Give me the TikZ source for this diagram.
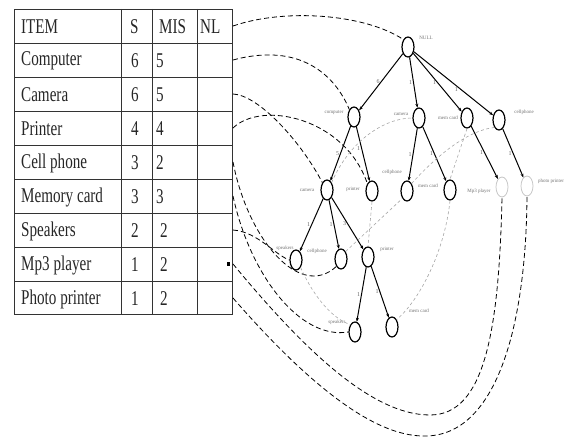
\documentclass[tikz,border=0pt]{standalone}
\usepackage{fontspec}
\setmainfont{Liberation Serif}
\newfontfamily\tabfont[FakeStretch=0.72]{Liberation Serif}
\usetikzlibrary{shapes.geometric,arrows.meta}
\begin{document}
\begin{tikzpicture}[x=1pt,y=-1pt,
 tn/.style={draw, ellipse, line width=1.2pt, minimum width=12pt, minimum height=20pt, inner sep=0pt},
 fn/.style={tn, draw=black!22, line width=0.8pt},
 lab/.style={font=\fontsize{5}{5}\selectfont, text=black!55, inner sep=0.5pt},
 elab/.style={font=\fontsize{6}{6}\selectfont, text=black!60, inner sep=1pt},
 tedge/.style={line width=1pt, -{Stealth[length=4pt,width=3pt]}},
 link/.style={dash pattern=on 5pt off 3pt, line width=0.8pt},
 glink/.style={dash pattern=on 3pt off 2.5pt, line width=0.6pt, draw=black!35},
 cell/.style={font=\tabfont\fontsize{21}{21}\selectfont, anchor=west, inner sep=0pt, text=black!85}
]
\useasboundingbox (0,0) rectangle (571,438);
% table
\draw[line width=0.9pt, draw=black!80] (14,9) rectangle (232,314);
\foreach \x in {121,152,197} \draw[line width=0.9pt, draw=black!80] (\x,9) -- (\x,314);
\foreach \y in {43,77,111,145,179,213,247,281} \draw[line width=0.9pt, draw=black!80] (14,\y) -- (232,\y);
\node[cell] (h1) at (21,27) {ITEM};
\node[cell] (h2) at (130,27) {S};
\node[cell] (h3) at (159,27) {MIS};
\node[cell] (h4) at (200,27) {NL};
\foreach \n/\t/\s/\m/\o [count=\i] in {a/Computer/6/5/0,b/Camera/6/5/0,c/Printer/4/4/0,d/Cell phone/3/2/0,e/Memory card/3/3/0,f/Speakers/2/2/4,g/Mp3 player/1/2/4,h/Photo printer/1/2/4}{
  \node[cell] (it\n) at (21,{27+34*\i}) {\t};
  \node[cell] (s\n) at (131,{27+34*\i}) {\s};
  \node[cell] (m\n) at ({156+\o},{27+34*\i}) {\m};
}
\node[fill=black, minimum width=3pt, minimum height=4pt, inner sep=0pt] (dot) at (228,264) {};
\foreach \i in {0,...,8} \coordinate (r\i) at (233,{26+34*\i});
% tree nodes
\node[tn] (null) at (408,47) {};
\node[tn] (comp) at (354,117) {};
\node[tn] (cam1) at (419,118) {};
\node[tn] (mem1) at (467,118) {};
\node[tn] (cell1) at (499,120) {};
\node[tn] (cam2) at (327,190) {};
\node[tn] (prn1) at (372,191) {};
\node[tn] (cell2) at (407,191) {};
\node[tn] (mem2) at (450,190) {};
\node[fn] (mp3) at (502,187) {};
\node[fn] (pp) at (527,186) {};
\node[tn] (spk1) at (296,260) {};
\node[tn] (cell3) at (341,259) {};
\node[tn] (prn2) at (368,257) {};
\node[tn] (spk2) at (355,332) {};
\node[tn] (mem3) at (392,327) {};
% node labels
\node[lab] (lnull) at (426,38) {NULL};
\node[lab] (lcomp) at (334,113) {computer};
\node[lab] (lcam1) at (401,114) {camera};
\node[lab] (lmem1) at (448,118) {mem card};
\node[lab] (lcell1) at (524,112) {cellphone};
\node[lab] (lcam2) at (307,190) {camera};
\node[lab] (lprn1) at (353,189) {printer};
\node[lab] (lcell2) at (392,172) {cellphone};
\node[lab] (lmem2) at (428,186) {mem card};
\node[lab] (lmp3) at (479,191) {Mp3 player};
\node[lab] (lpp) at (551,181) {photo printer};
\node[lab] (lspk1) at (285,248) {speakers};
\node[lab] (lcell3) at (317,251) {cellphone};
\node[lab] (lprn2) at (387,249) {printer};
\node[lab] (lspk2) at (337,322) {speakers};
\node[lab] (lmem3) at (419,311) {mem card};
% tree edges
\draw[tedge] (null) -- (comp) node[elab, midway, left] {6};
\draw[tedge] (null) -- (cam1) node[elab, midway, left] {1};
\draw[tedge] (null) -- (mem1) node[elab, midway, left] {1};
\draw[tedge] (null) -- (cell1) node[elab, pos=0.6, left=2pt] {1};
\draw[tedge] (comp) -- (cam2) node[elab, midway, left] {5};
\draw[tedge] (comp) -- (prn1) node[elab, pos=0.4, left] {1};
\draw[tedge] (cam1) -- (cell2) node[elab, midway, left] {1};
\draw[tedge] (cam1) -- (mem2) node[elab, midway, left] {1};
\draw[tedge] (mem1) -- (mp3) node[elab, midway, left] {1};
\draw[tedge] (cell1) -- (pp) node[elab, midway, left] {1};
\draw[tedge] (cam2) -- (spk1) node[elab, midway, left] {1};
\draw[tedge] (cam2) -- (cell3) node[elab, midway, left] {1};
\draw[tedge] (cam2) -- (prn2) node[elab, midway, left] {3};
\draw[tedge] (prn2) -- (spk2) node[elab, midway, left] {1};
\draw[tedge] (prn2) -- (mem3) node[elab, midway, left] {1};
% black node-links
\draw[link] (r0) .. controls (285,8) and (365,14) .. (null.north west);
\draw[link] (r1) .. controls (300,42) and (335,75) .. (comp.north west);
\draw[link] (r2) .. controls (258,95) and (300,140) .. (cam2.north west);
\draw[link] (r3) .. controls (262,100) and (345,118) .. (prn1.north west);
\draw[link] (r4) .. controls (248,240) and (300,300) .. (cell3.south west);
\draw[link] (r5) .. controls (250,275) and (300,340) .. (spk2.west);
\draw[link] (r6) .. controls (258,232) and (275,255) .. (spk1.west);
\draw[link] (r7) .. controls (300,345) and (370,415) .. (430,415) .. controls (485,415) and (499,330) .. (mp3.south);
\draw[link] (r8) .. controls (300,375) and (370,437) .. (425,436) .. controls (495,436) and (526,330) .. (pp.south);
% grey node-links
\draw[glink] (cam2.north east) .. controls (350,140) and (385,118) .. (cam1.west);
\draw[glink] (prn1.south) -- (prn2.north);
\draw[glink] (cell3.north east) -- (cell2.south west);
\draw[glink] (cell2.north east) .. controls (440,152) and (470,130) .. (cell1.south west);
\draw[glink] (mem1.south) -- (mem2.north);
\draw[glink] (mem2.south) .. controls (445,250) and (420,300) .. (mem3.north east);
\draw[glink] (spk1.south east) .. controls (315,300) and (335,320) .. (spk2.north west);
\end{tikzpicture}
\end{document}
